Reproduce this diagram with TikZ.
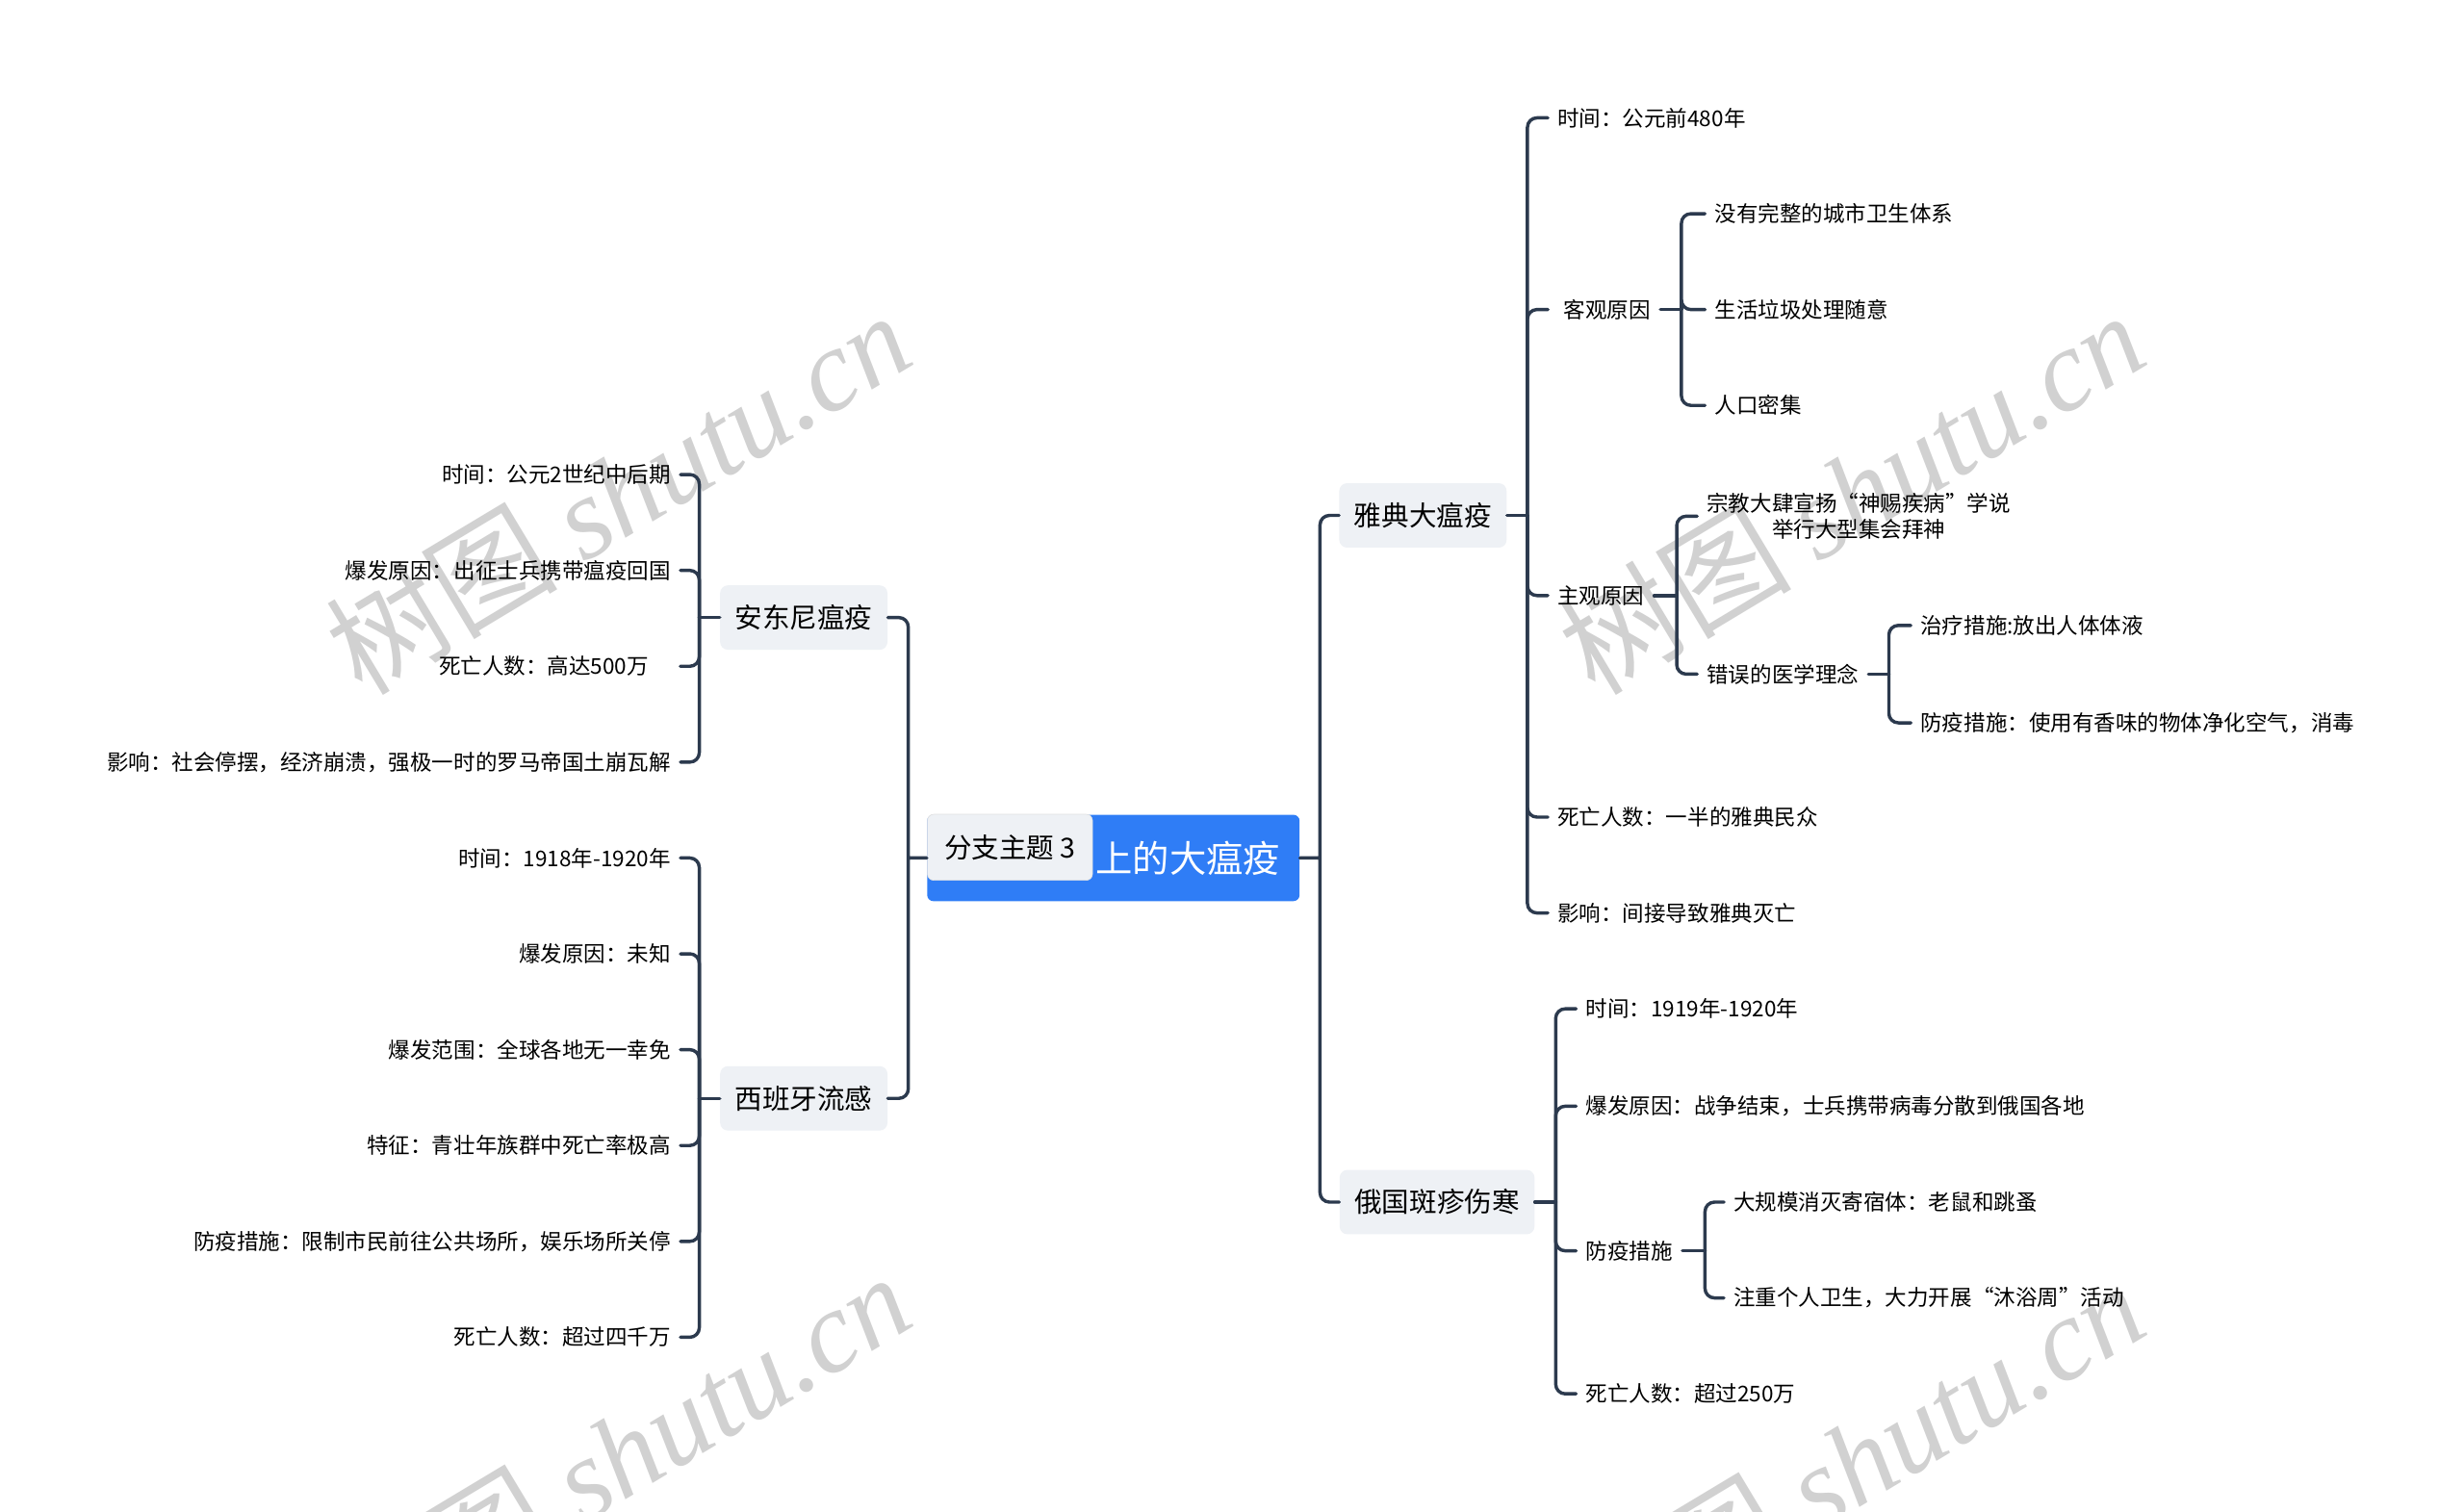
\documentclass[tikz,border=0pt]{standalone}
\usepackage{fontspec}
\setmainfont{Noto Sans CJK SC}
\newfontfamily\wmlatin{Liberation Serif}
\definecolor{linkcol}{RGB}{44,58,78}
\definecolor{rootcol}{RGB}{47,125,246}
\definecolor{topiccol}{RGB}{238,241,245}
\begin{document}
\begin{tikzpicture}[x=1pt,y=-1pt, line join=round, line cap=round,
	leaf/.style={inner xsep=6pt, inner ysep=3pt, font=\fontsize{13.8}{17}\selectfont},
	topic/.style={fill=topiccol, rounded corners=5pt, minimum height=41pt, inner xsep=9.5pt, font=\fontsize{17.5}{20}\selectfont},
	link/.style={draw=linkcol, line width=2.1pt, rounded corners=6pt},
	wmark/.style={text=black!18, rotate=31, font=\fontsize{74}{76}\selectfont}]
	\clip (0,0) rectangle (1568,962);
	\fill[white] (0,0) rectangle (1568,962);
	% watermark
	\foreach \wx/\wy [count=\i] in {393/313, 1178/313, 393/925, 1178/930}
		\node[wmark] (wm\i) at (\wx,\wy) {树图 {\wmlatin\itshape shutu.cn}};
	% root
	\node[fill=rootcol, rounded corners=4pt, minimum width=237pt, minimum height=55pt] (root) at (708.5,546) {};
	\node[anchor=east, text=white, inner sep=0pt, font=\fontsize{23.5}{26}\selectfont] (roottxt) at (815,546) {上的大瘟疫};
	\node[draw=black!12, fill=topiccol, rounded corners=4pt, minimum width=105pt, minimum height=42pt, anchor=north west, font=\fontsize{17.5}{20}\selectfont] (sub3) at (590,518) {分支主题 3};
	% main topics
	\node[topic] (athens) at (905.5,328) {雅典大瘟疫};
	\node[topic] (russia) at (914.5,765) {俄国斑疹伤寒};
	\node[topic] (antonine) at (511.5,393) {安东尼瘟疫};
	\node[topic] (spanish) at (511.5,699) {西班牙流感};
	\coordinate (rj) at (840,546);
	\coordinate (lj) at (578,546);
	\draw[link] (root.east)--(rj) (rj)|-(athens.west) (rj)|-(russia.west);
	\draw[link] (root.west)--(lj) (lj)|-(antonine.east) (lj)|-(spanish.east);
	% athens
	\coordinate (aj) at (972,328);
	\node[leaf, anchor=west] (a1) at (985,75) {时间：公元前480年};
	\node[leaf, anchor=west] (a2) at (985,197) {\hspace*{4pt}客观原因};
	\node[leaf, anchor=west] (a3) at (985,379) {主观原因};
	\node[leaf, anchor=west] (a4) at (985,520) {死亡人数：一半的雅典民众};
	\node[leaf, anchor=west] (a5) at (985,581) {影响：间接导致雅典灭亡};
	\draw[link] (athens.east)--(aj);
	\foreach \n in {a1,a2,a3,a4,a5} \draw[link] (aj)|-(\n.west);
	\coordinate (kj) at (1070,197);
	\node[leaf, anchor=west] (k1) at (1085,136) {没有完整的城市卫生体系};
	\node[leaf, anchor=west] (k2) at (1085,197) {生活垃圾处理随意};
	\node[leaf, anchor=west] (k3) at (1085,258) {人口密集};
	\draw[link] (a2.east)--(kj);
	\foreach \n in {k1,k2,k3} \draw[link] (kj)|-(\n.west);
	\coordinate (zj) at (1067,379);
	\node[leaf, anchor=west, align=center] (z1) at (1080,328.5) {宗教大肆宣扬“神赐疾病”学说\\举行大型集会拜神};
	\node[leaf, anchor=west] (z2) at (1080,429) {错误的医学理念};
	\draw[link] (a3.east)--(zj);
	\foreach \n in {z1,z2} \draw[link] (zj)|-(\n.west);
	\coordinate (ej) at (1202,429);
	\node[leaf, anchor=west] (e1) at (1216,398) {治疗措施:放出人体体液};
	\node[leaf, anchor=west] (e2) at (1216,460) {防疫措施：使用有香味的物体净化空气，消毒};
	\draw[link] (z2.east)--(ej);
	\foreach \n in {e1,e2} \draw[link] (ej)|-(\n.west);
	% russia
	\coordinate (sj) at (990,765);
	\node[leaf, anchor=west] (r1) at (1003,642) {时间：1919年-1920年};
	\node[leaf, anchor=west] (r2) at (1003,704) {爆发原因：战争结束，士兵携带病毒分散到俄国各地};
	\node[leaf, anchor=west] (r3) at (1003,796) {防疫措施};
	\node[leaf, anchor=west] (r4) at (1003,887) {死亡人数：超过250万};
	\draw[link] (russia.east)--(sj);
	\foreach \n in {r1,r2,r3,r4} \draw[link] (sj)|-(\n.west);
	\coordinate (fj) at (1085,796);
	\node[leaf, anchor=west] (f1) at (1097,765) {大规模消灭寄宿体：老鼠和跳蚤};
	\node[leaf, anchor=west] (f2) at (1097,826) {注重个人卫生，大力开展“沐浴周”活动};
	\draw[link] (r3.east)--(fj);
	\foreach \n in {f1,f2} \draw[link] (fj)|-(\n.west);
	% antonine
	\coordinate (nj) at (445,393);
	\node[leaf, anchor=east] (n1) at (433,302) {时间：公元2世纪中后期};
	\node[leaf, anchor=east] (n2) at (433,363) {爆发原因：出征士兵携带瘟疫回国};
	\node[leaf, anchor=east] (n3) at (433,424) {死亡人数：高达500万\hspace*{14pt}};
	\node[leaf, anchor=east] (n4) at (433,485) {影响：社会停摆，经济崩溃，强极一时的罗马帝国土崩瓦解};
	\draw[link] (antonine.west)--(nj);
	\foreach \n in {n1,n2,n3,n4} \draw[link] (nj)|-(\n.east);
	% spanish flu
	\coordinate (pj) at (445,699);
	\node[leaf, anchor=east] (p1) at (433,546) {时间：1918年-1920年};
	\node[leaf, anchor=east] (p2) at (433,607) {爆发原因：未知};
	\node[leaf, anchor=east] (p3) at (433,668) {爆发范围：全球各地无一幸免};
	\node[leaf, anchor=east] (p4) at (433,729) {特征：青壮年族群中死亡率极高};
	\node[leaf, anchor=east] (p5) at (433,790) {防疫措施：限制市民前往公共场所，娱乐场所关停};
	\node[leaf, anchor=east] (p6) at (433,851) {死亡人数：超过四千万};
	\draw[link] (spanish.west)--(pj);
	\foreach \n in {p1,p2,p3,p4,p5,p6} \draw[link] (pj)|-(\n.east);
\end{tikzpicture}
\end{document}
